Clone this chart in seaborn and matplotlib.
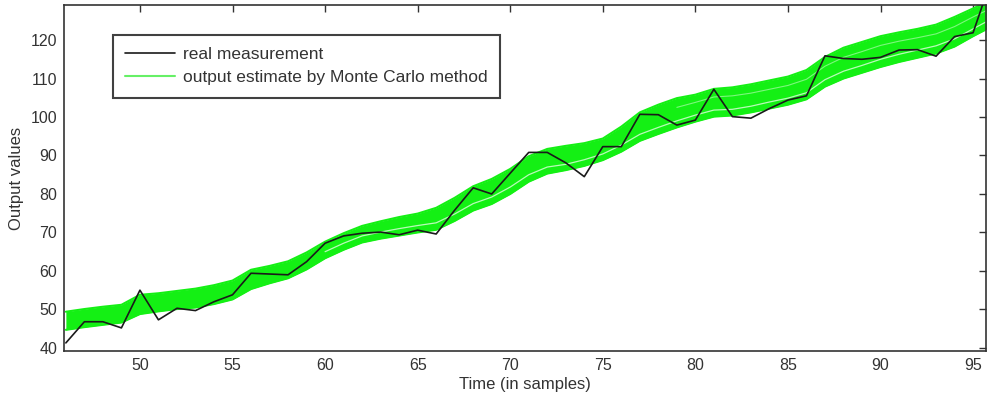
import matplotlib
matplotlib.use("Agg")
import matplotlib.pyplot as plt
from matplotlib.lines import Line2D
import seaborn as sns

# ---------------- data ----------------
time = list(range(46, 97))

measurement = [41.3, 46.8, 46.8, 45.2, 55.0, 47.3, 50.3, 49.7, 52.0, 53.8,
               59.4, 59.2, 59.0, 62.4, 67.2, 69.1, 69.8, 70.1, 69.4, 70.6,
               69.6, 75.8, 81.6, 80.0, 85.4, 90.8, 90.8, 88.1, 84.5, 92.3,
               92.3, 100.7, 100.6, 97.9, 99.2, 107.2, 100.1, 99.7, 102.2, 104.4,
               105.5, 115.9, 115.2, 115.0, 115.5, 117.4, 117.5, 115.8, 120.9, 121.9,
               136.0]

band_upper = [49.4, 50.1, 50.7, 51.2, 53.8, 54.2, 54.8, 55.4, 56.3, 57.5,
              60.3, 61.3, 62.5, 64.8, 67.6, 69.8, 71.7, 72.9, 74.0, 74.9,
              76.4, 79.0, 82.0, 83.9, 86.5, 89.8, 91.7, 92.5, 93.2, 94.4,
              97.5, 101.2, 103.2, 104.9, 105.8, 107.3, 107.7, 108.5, 109.5, 110.5,
              112.2, 115.6, 118.0, 119.5, 121.0, 122.0, 122.9, 124.0, 126.0, 128.2,
              130.5]

band_lower = [44.7, 45.4, 46.0, 46.6, 48.8, 49.5, 50.1, 50.5, 51.4, 52.6,
              55.3, 56.8, 58.1, 60.4, 63.3, 65.5, 67.4, 68.4, 69.2, 70.0,
              70.7, 73.0, 75.7, 77.4, 80.0, 83.2, 85.3, 86.2, 87.3, 88.8,
              91.0, 93.8, 95.6, 97.3, 98.8, 100.1, 100.4, 101.2, 102.2, 103.2,
              104.6, 107.9, 110.0, 111.5, 113.0, 114.3, 115.4, 116.5, 118.3, 121.0,
              123.5]

white_low_time = list(range(60, 97))
white_low = [65.0, 67.2, 69.1, 70.1, 71.0, 71.8, 72.5, 74.8, 77.5, 79.2,
             81.8, 85.0, 87.0, 87.7, 88.9, 90.4, 92.7, 95.5, 97.3, 99.0,
             100.5, 101.8, 102.0, 102.8, 103.9, 104.9, 106.3, 109.7, 111.9, 113.4,
             115.0, 116.3, 117.4, 118.5, 120.3, 122.9, 125.5]

white_up_time = list(range(79, 97))
white_up = [102.5, 103.8, 105.2, 105.5, 106.2, 107.2, 108.2, 109.8, 113.2, 115.5,
            117.0, 118.6, 119.7, 120.6, 121.6, 123.5, 126.0, 128.3]

x_ticks = [50, 55, 60, 65, 70, 75, 80, 85, 90, 95]
y_ticks = [40, 50, 60, 70, 80, 90, 100, 110, 120]

labels = ["real measurement", "output estimate by Monte Carlo method"]

# ---------------- style ----------------
sns.set_style("white")
plt.rcParams['font.family'] = ['Liberation Sans', 'DejaVu Sans']
plt.rcParams['font.size'] = 11.5

GREEN = "#14f014"
LEGEND_GREEN = "#66f066"
BLACK = "#1a1a1a"
GREY = "#333333"

fig = plt.figure(figsize=(9.91, 4.01), dpi=100)
ax = fig.add_axes([0.0646, 0.1247, 0.9304, 0.8628])

# Monte Carlo band
ax.fill_between(time, band_lower, band_upper, color=GREEN, lw=0, zorder=1)
for edge in (band_lower, band_upper):
    sns.lineplot(x=time, y=edge, color=GREEN, lw=1.5, sort=False, ax=ax, zorder=1)
sns.lineplot(x=white_low_time, y=white_low, color="white", lw=0.9, alpha=0.7,
             sort=False, ax=ax, zorder=2)
sns.lineplot(x=white_up_time, y=white_up, color="white", lw=0.8, alpha=0.45,
             sort=False, ax=ax, zorder=2)

# real measurement
sns.lineplot(x=time, y=measurement, color=BLACK, lw=1.2, sort=False, ax=ax, zorder=3)

ax.set_xlim(45.9, 95.7)
ax.set_ylim(39.2, 129.1)
ax.set_xticks(x_ticks)
ax.set_yticks(y_ticks)
ax.tick_params(direction="in", length=5, width=1, colors=GREY,
               top=True, right=True, labelsize=11.5, pad=5)
for s in ax.spines.values():
    s.set_color(GREY)
    s.set_linewidth(1.2)

ax.set_xlabel("Time (in samples)", fontsize=12, color=GREY, labelpad=3)
ax.set_ylabel("Output values", fontsize=12, color=GREY, labelpad=5)

handles = [Line2D([0], [0], color=BLACK, lw=1.2),
           Line2D([0], [0], color=LEGEND_GREEN, lw=1.5)]
leg = ax.legend(handles, labels, loc="upper left", bbox_to_anchor=(0.053, 0.913),
                borderaxespad=0, frameon=True, fancybox=False, fontsize=12.5,
                handlelength=2.9, handletextpad=0.45, labelspacing=0.45,
                borderpad=0.7)
leg.get_frame().set_edgecolor("#111111")
leg.get_frame().set_linewidth(1.5)
for t in leg.get_texts():
    t.set_color(GREY)

fig.savefig("out.png", dpi=100)
